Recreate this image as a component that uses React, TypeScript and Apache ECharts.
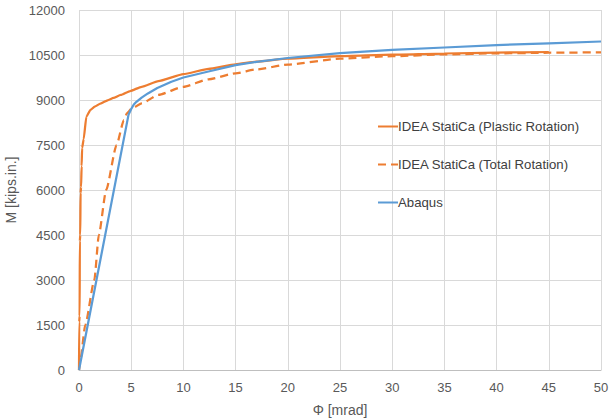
import React, { useEffect, useRef } from "react";
import * as echarts from "echarts";

const xTicks = { min: 0, max: 50, interval: 5 };
const yTicks = { min: 0, max: 12000, interval: 1500 };

const plasticPhi = [0, 0.02, 0.06, 0.08, 0.12, 0.15, 0.2, 0.25, 0.3, 0.45, 0.7, 1.1, 1.5, 2.05, 2.8, 3.3, 4.0, 4.9, 6.0, 7.6, 10, 12.4, 15, 17, 20, 25, 30, 35, 40, 45];
const plasticM = [0, 1600, 1800, 4300, 4500, 5900, 6100, 6800, 7400, 7700, 8440, 8670, 8780, 8880, 9000, 9070, 9170, 9300, 9440, 9630, 9860, 10040, 10190, 10280, 10380, 10460, 10510, 10550, 10580, 10600];

const totalPhi = [0, 0.13, 0.6, 1.47, 1.9, 2.6, 3.6, 4.3, 4.6, 5.0, 6.0, 7.6, 10, 12.4, 15, 17, 20, 25, 30, 35, 40, 45, 50];
const totalM = [0, 330, 1500, 3000, 4500, 6000, 7500, 8330, 8560, 8700, 8890, 9170, 9440, 9690, 9890, 10020, 10180, 10380, 10460, 10520, 10555, 10575, 10590];

const abaqusPhi = [0, 4.75, 5.0, 5.25, 5.5, 6.0, 6.6, 7.5, 8.85, 10, 12.4, 15, 17, 20, 25, 30, 35, 40, 45, 50];
const abaqusM = [0, 8520, 8700, 8850, 8940, 9080, 9220, 9400, 9610, 9750, 9950, 10160, 10270, 10400, 10560, 10670, 10750, 10830, 10890, 10950];

const seriesNames = ["IDEA StatiCa (Plastic Rotation)", "IDEA StatiCa (Total Rotation)", "Abaqus"];

const pairs = (xs: number[], ys: number[]) => xs.map((x, i) => [x, ys[i]]);

const FONT = "Liberation Sans";

export default function App() {
  const ref = useRef<HTMLDivElement>(null);
  useEffect(() => {
    if (!ref.current) return;
    const chart = echarts.init(ref.current, null, { renderer: "svg" });
    const axisLabel = { color: "#595959", fontSize: 13, fontFamily: FONT };
    chart.setOption({
      animation: false,
      backgroundColor: "#ffffff",
      grid: { left: 79, right: 15, top: 10, bottom: 50, outerBoundsMode: "none", containLabel: false },
      legend: {
        orient: "vertical",
        left: 377,
        top: 120,
        padding: 0,
        itemWidth: 20,
        itemHeight: 14,
        itemGap: 25,
        itemStyle: { opacity: 0 },
        textStyle: { color: "#404040", fontSize: 13.2, fontFamily: FONT, padding: [0, 0, 0, -5] },
        data: seriesNames,
      },
      xAxis: {
        type: "value",
        min: xTicks.min,
        max: xTicks.max,
        interval: xTicks.interval,
        name: "Φ [mrad]",
        nameLocation: "middle",
        nameGap: 33,
        nameTextStyle: { color: "#595959", fontSize: 14, fontFamily: FONT },
        axisLine: { show: true, lineStyle: { color: "#bfbfbf", width: 1 } },
        axisTick: { show: false },
        axisLabel: { ...axisLabel, margin: 11 },
        splitLine: { show: true, lineStyle: { color: "#d9d9d9", width: 1 } },
      },
      yAxis: {
        type: "value",
        min: yTicks.min,
        max: yTicks.max,
        interval: yTicks.interval,
        name: "M [kips.in.]",
        nameLocation: "middle",
        nameGap: 57,
        nameTextStyle: { color: "#595959", fontSize: 14, fontFamily: FONT },
        axisLine: { show: false },
        axisTick: { show: false },
        axisLabel: { ...axisLabel, margin: 14, formatter: (v: number) => String(v) },
        splitLine: { show: true, lineStyle: { color: "#d9d9d9", width: 1 } },
      },
      series: [
        {
          name: seriesNames[0],
          type: "line",
          data: pairs(plasticPhi, plasticM),
          symbol: "none",
          smooth: 0.15,
          smoothMonotone: "x",
          lineStyle: { color: "#ED7D31", width: 2.25 },
          itemStyle: { color: "#ED7D31" },
        },
        {
          name: seriesNames[1],
          type: "line",
          data: pairs(totalPhi, totalM),
          symbol: "none",
          smooth: 0.2,
          smoothMonotone: "x",
          lineStyle: { color: "#ED7D31", width: 2.25, type: [8, 5] },
          itemStyle: { color: "#ED7D31" },
        },
        {
          name: seriesNames[2],
          type: "line",
          data: pairs(abaqusPhi, abaqusM),
          symbol: "none",
          smooth: false,
          lineStyle: { color: "#5B9BD5", width: 2.25 },
          itemStyle: { color: "#5B9BD5" },
        },
      ],
    });
    return () => chart.dispose();
  }, []);
  return <div ref={ref} style={{ position: "fixed", left: 0, top: 0, width: 616, height: 420 }} />;
}
